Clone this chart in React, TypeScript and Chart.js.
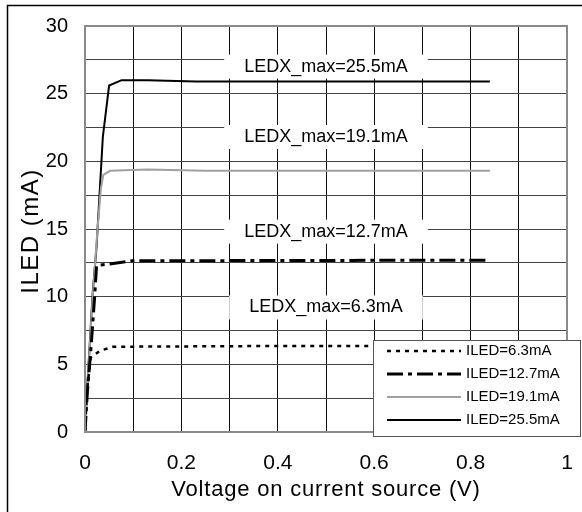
import React, { useEffect, useRef } from "react";
import { Chart, registerables } from "chart.js";

Chart.register(...registerables);

// Series data (Voltage on current source in V, ILED in mA)
const s63X = [0, 0.004, 0.012, 0.031, 0.058, 0.36, 0.84];
const s63Y = [0, 3.0, 5.5, 6.0, 6.3, 6.35, 6.35];
const s127X = [0, 0.005, 0.012, 0.02, 0.024, 0.048, 0.097, 0.84];
const s127Y = [0, 3.0, 6.0, 10.0, 12.3, 12.4, 12.65, 12.7];
const s191X = [0, 0.004, 0.016, 0.026, 0.033, 0.038, 0.052, 0.13, 0.25, 0.84];
const s191Y = [0, 2.9, 10.0, 15.0, 18.0, 19.0, 19.3, 19.4, 19.3, 19.3];
const s255X = [0, 0.004, 0.016, 0.024, 0.037, 0.05, 0.076, 0.13, 0.23, 0.84];
const s255Y = [0, 2.9, 10.3, 13.7, 21.8, 25.6, 26.0, 26.0, 25.9, 25.9];

const seriesNames = ["ILED=6.3mA", "ILED=12.7mA", "ILED=19.1mA", "ILED=25.5mA"];

// Annotation labels
const annText = ["LEDX_max=25.5mA", "LEDX_max=19.1mA", "LEDX_max=12.7mA", "LEDX_max=6.3mA"];
const annX = [0.5, 0.5, 0.5, 0.5];
const annY = [27.0, 21.8, 14.8, 9.2];

const xTitle = "Voltage on current source (V)";
const yTitle = "ILED (mA)";

const FONT = "'Liberation Sans', Arial, sans-serif";

const toPts = (xs: number[], ys: number[]) => xs.map((x, i) => ({ x, y: ys[i] }));

export default function App() {
  const ref = useRef<HTMLCanvasElement | null>(null);

  useEffect(() => {
    document.body.style.margin = "0";
    const canvas = ref.current;
    if (!canvas) return;

    const styles = [
      { color: "#000", width: 2.5, dash: [4, 5] },
      { color: "#000", width: 3, dash: [16, 5, 4, 5] },
      { color: "#a0a0a0", width: 2, dash: [] as number[] },
      { color: "#000", width: 2, dash: [] as number[] },
    ];

    const custom = {
      id: "custom",
      beforeDatasetsDraw(chart: any) {
        const { ctx, scales } = chart;
        ctx.save();
        ctx.font = `18px ${FONT}`;
        ctx.textAlign = "center";
        ctx.textBaseline = "middle";
        annText.forEach((t, i) => {
          const px = scales.x.getPixelForValue(annX[i]);
          const py = scales.y.getPixelForValue(annY[i]);
          const w = ctx.measureText(t).width + 40;
          ctx.fillStyle = "#fff";
          ctx.fillRect(px - w / 2, py - 12, w, 24);
          ctx.fillStyle = "#000";
          ctx.fillText(t, px, py);
        });
        ctx.restore();
      },
      afterDraw(chart: any) {
        const { ctx, chartArea } = chart;
        const { left, top, right, bottom } = chartArea;
        ctx.save();
        // plot border
        ctx.strokeStyle = "#8a8a8a";
        ctx.lineWidth = 2;
        ctx.strokeRect(left, top, right - left, bottom - top);
        // outer frame
        ctx.strokeStyle = "#000";
        ctx.lineWidth = 1.5;
        ctx.strokeRect(7.5, 5.5, 700, 700);
        // axis titles
        ctx.fillStyle = "#000";
        ctx.font = `22px ${FONT}`;
        (ctx as any).letterSpacing = "0.8px";
        ctx.textAlign = "center";
        ctx.textBaseline = "middle";
        ctx.fillText(xTitle, (left + right) / 2, 490);
        ctx.save();
        ctx.translate(31, (top + bottom) / 2 + 2);
        ctx.rotate(-Math.PI / 2);
        ctx.font = `24px ${FONT}`;
        (ctx as any).letterSpacing = "1.5px";
        ctx.fillText(yTitle, 0, 0);
        ctx.restore();
        (ctx as any).letterSpacing = "0px";
        // legend
        const lw = 207, lh = 96;
        const lx = right - 194, ly = bottom - 92;
        ctx.fillStyle = "#fff";
        ctx.fillRect(lx, ly, lw, lh);
        ctx.strokeStyle = "#555";
        ctx.lineWidth = 1;
        ctx.strokeRect(lx + 0.5, ly + 0.5, lw, lh);
        ctx.font = `15px ${FONT}`;
        ctx.textAlign = "left";
        ctx.textBaseline = "middle";
        seriesNames.forEach((n, i) => {
          const ry = ly + 11 + i * 23;
          const st = styles[i];
          ctx.strokeStyle = st.color;
          ctx.lineWidth = st.width;
          ctx.setLineDash(st.dash);
          ctx.beginPath();
          ctx.moveTo(lx + 14, ry);
          ctx.lineTo(lx + 88, ry);
          ctx.stroke();
          ctx.setLineDash([]);
          ctx.fillStyle = "#000";
          ctx.fillText(n, lx + 93, ry);
        });
        ctx.restore();
      },
    };

    const chart = new Chart(canvas, {
      type: "line",
      data: {
        datasets: [
          { label: seriesNames[0], data: toPts(s63X, s63Y) },
          { label: seriesNames[1], data: toPts(s127X, s127Y) },
          { label: seriesNames[2], data: toPts(s191X, s191Y) },
          { label: seriesNames[3], data: toPts(s255X, s255Y) },
        ].map((d, i) => ({
          ...d,
          borderColor: styles[i].color,
          borderWidth: styles[i].width,
          borderDash: styles[i].dash,
          pointRadius: 0,
          tension: 0,
          fill: false,
        })),
      },
      options: {
        responsive: false,
        animation: false,
        layout: { padding: { top: 26, right: 15, left: 0, bottom: 0 } },
        plugins: { legend: { display: false }, tooltip: { enabled: false } },
        scales: {
          x: {
            type: "linear",
            min: 0,
            max: 1,
            afterFit: (s: any) => {
              s.height = 80;
              s.paddingLeft = 0;
              s.paddingRight = 0;
            },
            ticks: {
              stepSize: 0.1,
              autoSkip: false,
              maxRotation: 0,
              padding: 19,
              color: "#000",
              font: { family: FONT, size: 21 },
              callback: (v: any) => {
                const r = Math.round(Number(v) * 10);
                return r % 2 === 0 ? String(r / 10) : "";
              },
            },
            grid: { color: "#111", lineWidth: 1, drawTicks: false },
            border: { display: false },
          },
          y: {
            min: 0,
            max: 30,
            afterFit: (s: any) => {
              s.width = 85;
              s.paddingTop = 0;
              s.paddingBottom = 0;
            },
            ticks: {
              stepSize: 2.5,
              autoSkip: false,
              padding: 17,
              color: "#000",
              font: { family: FONT, size: 20 },
              callback: (v: any) => (Number(v) % 5 === 0 ? String(v) : ""),
            },
            grid: { color: "#444", lineWidth: 1, drawTicks: false },
            border: { display: false },
          },
        },
      },
      plugins: [custom],
    });

    return () => chart.destroy();
  }, []);

  return (
    <div style={{ width: 582, height: 512 }}>
      <canvas ref={ref} width={582} height={512} />
    </div>
  );
}
